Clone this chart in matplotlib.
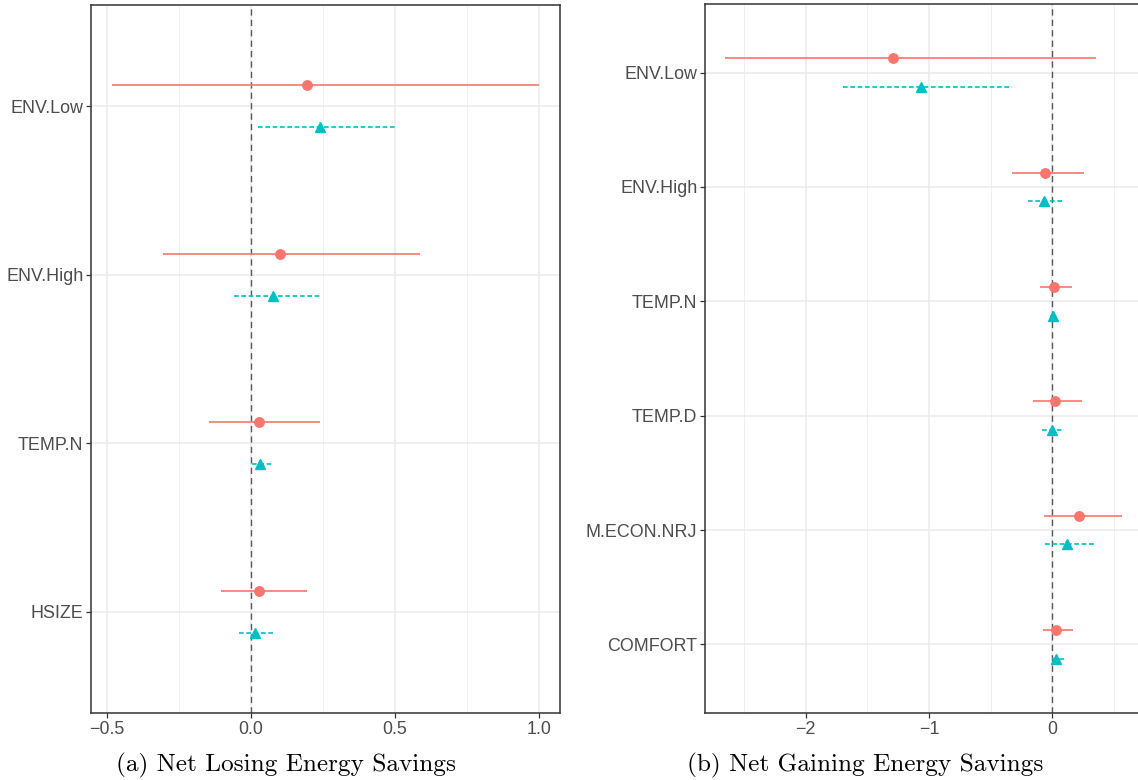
import matplotlib
matplotlib.use('Agg')
import matplotlib.pyplot as plt
import numpy as np
from matplotlib.ticker import FixedLocator, FuncFormatter

# panel (a): net losing energy savings
left_labels = ['ENV.Low', 'ENV.High', 'TEMP.N', 'HSIZE']
left_est_red = [0.195, 0.100, 0.030, 0.030]
left_lo_red = [-0.481, -0.305, -0.145, -0.105]
left_hi_red = [1.000, 0.588, 0.242, 0.195]
left_est_teal = [0.239, 0.076, 0.033, 0.013]
left_lo_teal = [0.025, -0.057, 0.003, -0.042]
left_hi_teal = [0.504, 0.239, 0.072, 0.078]
left_ticks = [-0.5, 0.0, 0.5, 1.0]

# panel (b): net gaining energy savings
right_labels = ['ENV.Low', 'ENV.High', 'TEMP.N', 'TEMP.D', 'M.ECON.NRJ', 'COMFORT']
right_est_red = [-1.290, -0.058, 0.017, 0.025, 0.220, 0.033]
right_lo_red = [-2.657, -0.323, -0.100, -0.156, -0.067, -0.078]
right_hi_red = [0.359, 0.256, 0.159, 0.242, 0.568, 0.170]
right_est_teal = [-1.067, -0.064, 0.003, -0.003, 0.123, 0.033]
right_lo_teal = [-1.696, -0.198, -0.020, -0.080, -0.056, 0.000]
right_hi_teal = [-0.329, 0.089, 0.025, 0.086, 0.337, 0.095]
right_ticks = [-2, -1, 0]

RED = '#F8766D'
TEAL = '#00BFC4'
GRID = '#EBEBEB'
plt.rcParams['font.family'] = ['Liberation Sans', 'DejaVu Sans']


def draw_panel(ax, labels, est_r, lo_r, hi_r, est_t, lo_t, hi_t, ticks, fmt):
    n = len(labels)
    pos = np.arange(1, n + 1)
    dodge = 0.125

    # ggplot style 5% expansion on x, 0.6 on discrete y
    lo_all = min(min(lo_r), min(lo_t))
    hi_all = max(max(hi_r), max(hi_t))
    pad = 0.05 * (hi_all - lo_all)
    ax.set_xlim(lo_all - pad, hi_all + pad)
    ax.set_ylim(n + 0.6, 0.4)

    minor = [(a + b) / 2 for a, b in zip(ticks[:-1], ticks[1:])]
    step = ticks[1] - ticks[0]
    minor = [ticks[0] - step / 2] + minor + [ticks[-1] + step / 2]
    for m in minor:
        ax.axvline(m, color=GRID, lw=0.55, zorder=0)
    for t in ticks:
        ax.axvline(t, color=GRID, lw=1.1, zorder=0)
    for p in pos:
        ax.axhline(p, color=GRID, lw=1.1, zorder=0)

    ax.axvline(0, color='#595959', lw=1.0, ls=(0, (4.5, 3)), zorder=1)

    ax.hlines(pos - dodge, lo_r, hi_r, color=RED, lw=1.2, zorder=2)
    ax.plot(est_r, pos - dodge, 'o', color=RED, ms=6.8, zorder=3)
    ax.hlines(pos + dodge, lo_t, hi_t, color=TEAL, lw=1.2,
              linestyles=(0, (2.8, 1.6)), zorder=2)
    ax.plot(est_t, pos + dodge, '^', color=TEAL, ms=7.2, zorder=3)

    ax.xaxis.set_major_locator(FixedLocator(ticks))
    ax.xaxis.set_major_formatter(FuncFormatter(fmt))
    ax.set_yticks(pos)
    ax.set_yticklabels(labels)
    ax.tick_params(axis='both', length=3.5, width=0.9, color='#333333',
                   labelcolor='#4D4D4D', labelsize=12.9, pad=2)
    for s in ax.spines.values():
        s.set_color('#333333')
        s.set_linewidth(1.1)
    ax.set_axisbelow(True)


fig = plt.figure(figsize=(11.38, 7.8), dpi=100)
ax1 = fig.add_axes([0.0800, 0.0859, 0.4121, 0.9077])
ax2 = fig.add_axes([0.6195, 0.0859, 0.3840, 0.9090])

draw_panel(ax1, left_labels, left_est_red, left_lo_red, left_hi_red,
           left_est_teal, left_lo_teal, left_hi_teal, left_ticks,
           lambda v, p: '{0:.1f}'.format(v).replace('-', '\u2212'))
draw_panel(ax2, right_labels, right_est_red, right_lo_red, right_hi_red,
           right_est_teal, right_lo_teal, right_hi_teal, right_ticks,
           lambda v, p: '{0:d}'.format(int(round(v))).replace('-', '\u2212'))

fig.text(286 / 1138, 1 - 765 / 780, '(a) Net Losing Energy Savings',
         family='cmr10', fontsize=18.2, ha='center', va='center')
fig.text(865 / 1138, 1 - 765 / 780, '(b) Net Gaining Energy Savings',
         family='cmr10', fontsize=18.2, ha='center', va='center')

fig.savefig('out.png', dpi=100)
